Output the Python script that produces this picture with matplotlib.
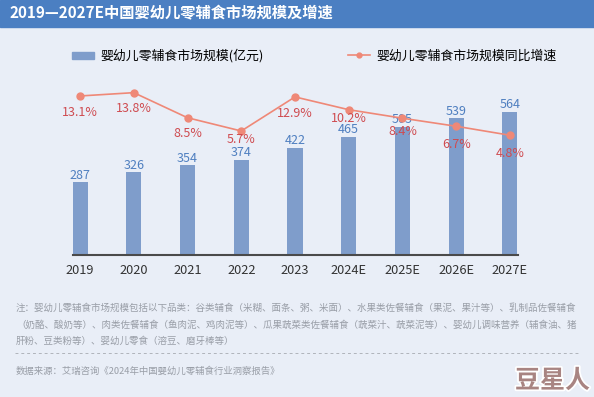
import matplotlib.pyplot as plt
import matplotlib.patheffects as pe
from matplotlib.lines import Line2D
from matplotlib.patches import Patch, Rectangle

plt.rcParams['font.family'] = ['Noto Sans CJK SC', 'DejaVu Sans']

years = ['2019', '2020', '2021', '2022', '2023', '2024E', '2025E', '2026E', '2027E']
market_size = [287, 326, 354, 374, 422, 465, 505, 539, 564]
growth = [13.1, 13.8, 8.5, 5.7, 12.9, 10.2, 8.4, 6.7, 4.8]

title = '2019—2027E中国婴幼儿零辅食市场规模及增速'
bar_label = '婴幼儿零辅食市场规模(亿元)'
line_label = '婴幼儿零辅食市场规模同比增速'
note_lines = [
    '注：婴幼儿零辅食市场规模包括以下品类：谷类辅食（米糊、面条、粥、米面）、水果类佐餐辅食（果泥、果汁等）、乳制品佐餐辅食',
    '（奶酪、酸奶等）、肉类佐餐辅食（鱼肉泥、鸡肉泥等）、瓜果蔬菜类佐餐辅食（蔬菜汁、蔬菜泥等）、婴幼儿调味营养（辅食油、猪',
    '肝粉、豆类粉等）、婴幼儿零食（溶豆、磨牙棒等）',
]
source = '数据来源：艾瑞咨询《2024年中国婴幼儿零辅食行业洞察报告》'

bg = '#e9eef7'
bar_color = '#7f9dcb'
blue_text = '#4f7fc0'
line_color = '#ef8877'
red_text = '#cf4b50'
note_color = '#999ea7'

# vertical gap (points) between each growth point and its label
pct_offsets = [7, 7, 7, 1.5, 7, 1.5, 5, 8.5, 8.5]

W, H = 594, 397
fig = plt.figure(figsize=(W / 100, H / 100), dpi=100, facecolor=bg)

# title bar
fig.patches.append(Rectangle((0, 1 - 27 / H), 1, 27 / H, transform=fig.transFigure,
                             color='#4b7fc2', zorder=0))
fig.text(10 / W, 1 - 13.5 / H, title, color='white', fontsize=11, fontweight='bold',
         va='center', ha='left')

# main axes (pixel placement)
left, right, top, bottom = 72.5, 517.5, 60, 255
ax = fig.add_axes([left / W, 1 - bottom / H, (right - left) / W, (bottom - top) / H])
ax.set_facecolor('none')
x = list(range(len(years)))
ax.bar(x, market_size, width=0.28, color=bar_color, zorder=2)
ax.set_xlim(-0.14, len(years) - 1 + 0.14)
ax.set_ylim(0, 769)
for xi, v in zip(x, market_size):
    ax.annotate(str(v), (xi, v), xytext=(0, 0.5), textcoords='offset points',
                ha='center', va='bottom', color=blue_text, fontsize=9)

for s in ['top', 'right', 'left']:
    ax.spines[s].set_visible(False)
ax.spines['bottom'].set_color('#4a4a4a')
ax.spines['bottom'].set_linewidth(1.5)
ax.set_yticks([])
ax.set_xticks(x)
ax.set_xticklabels(years, fontsize=9.2, color='#333333')
ax.tick_params(axis='x', length=0, pad=6.5)

ax2 = ax.twinx()
ax2.set_ylim(-20.5, 20.7)
ax2.plot(x, growth, color=line_color, lw=1.2, marker='o', markersize=5, zorder=3)
for xi, v, off in zip(x, growth, pct_offsets):
    ax2.annotate(f'{v}%', (xi, v), xytext=(0, -off), textcoords='offset points',
                 ha='center', va='top', color=red_text, fontsize=9)
ax2.axis('off')

# legend
bar_handle = Patch(color=bar_color)
line_handle = Line2D([], [], color=line_color, lw=1.2, marker='o', markersize=3.5)
fig.legend([bar_handle], [bar_label], loc='center left', bbox_to_anchor=(72 / W, 1 - 56 / H),
           frameon=False, fontsize=9.3, handlelength=1.7, handleheight=0.45,
           handletextpad=0.5, borderpad=0, borderaxespad=0)
fig.legend([line_handle], [line_label], loc='center left', bbox_to_anchor=(348 / W, 1 - 56 / H),
           frameon=False, fontsize=9.3, handlelength=1.7, handletextpad=0.5,
           borderpad=0, borderaxespad=0)

# notes
for i, line in enumerate(note_lines):
    fig.text(16 / W, 1 - (308 + i * 16.5) / H, line, fontsize=6.85, color=note_color, va='center')
fig.add_artist(Line2D([15 / W, 578 / W], [1 - 353 / H, 1 - 353 / H], color='#b0b4bb',
                      lw=0.7, ls=(0, (3, 3))))
fig.text(16 / W, 1 - 371 / H, source, fontsize=6.75, color=note_color, va='center')

# watermark
fig.text(590 / W, 1 - 381 / H, '豆星人', fontsize=18, fontweight='bold', color='#a88482',
         ha='right', va='center',
         path_effects=[pe.withStroke(linewidth=2.5, foreground='white')])

fig.savefig('out.png', dpi=100, facecolor=bg)
